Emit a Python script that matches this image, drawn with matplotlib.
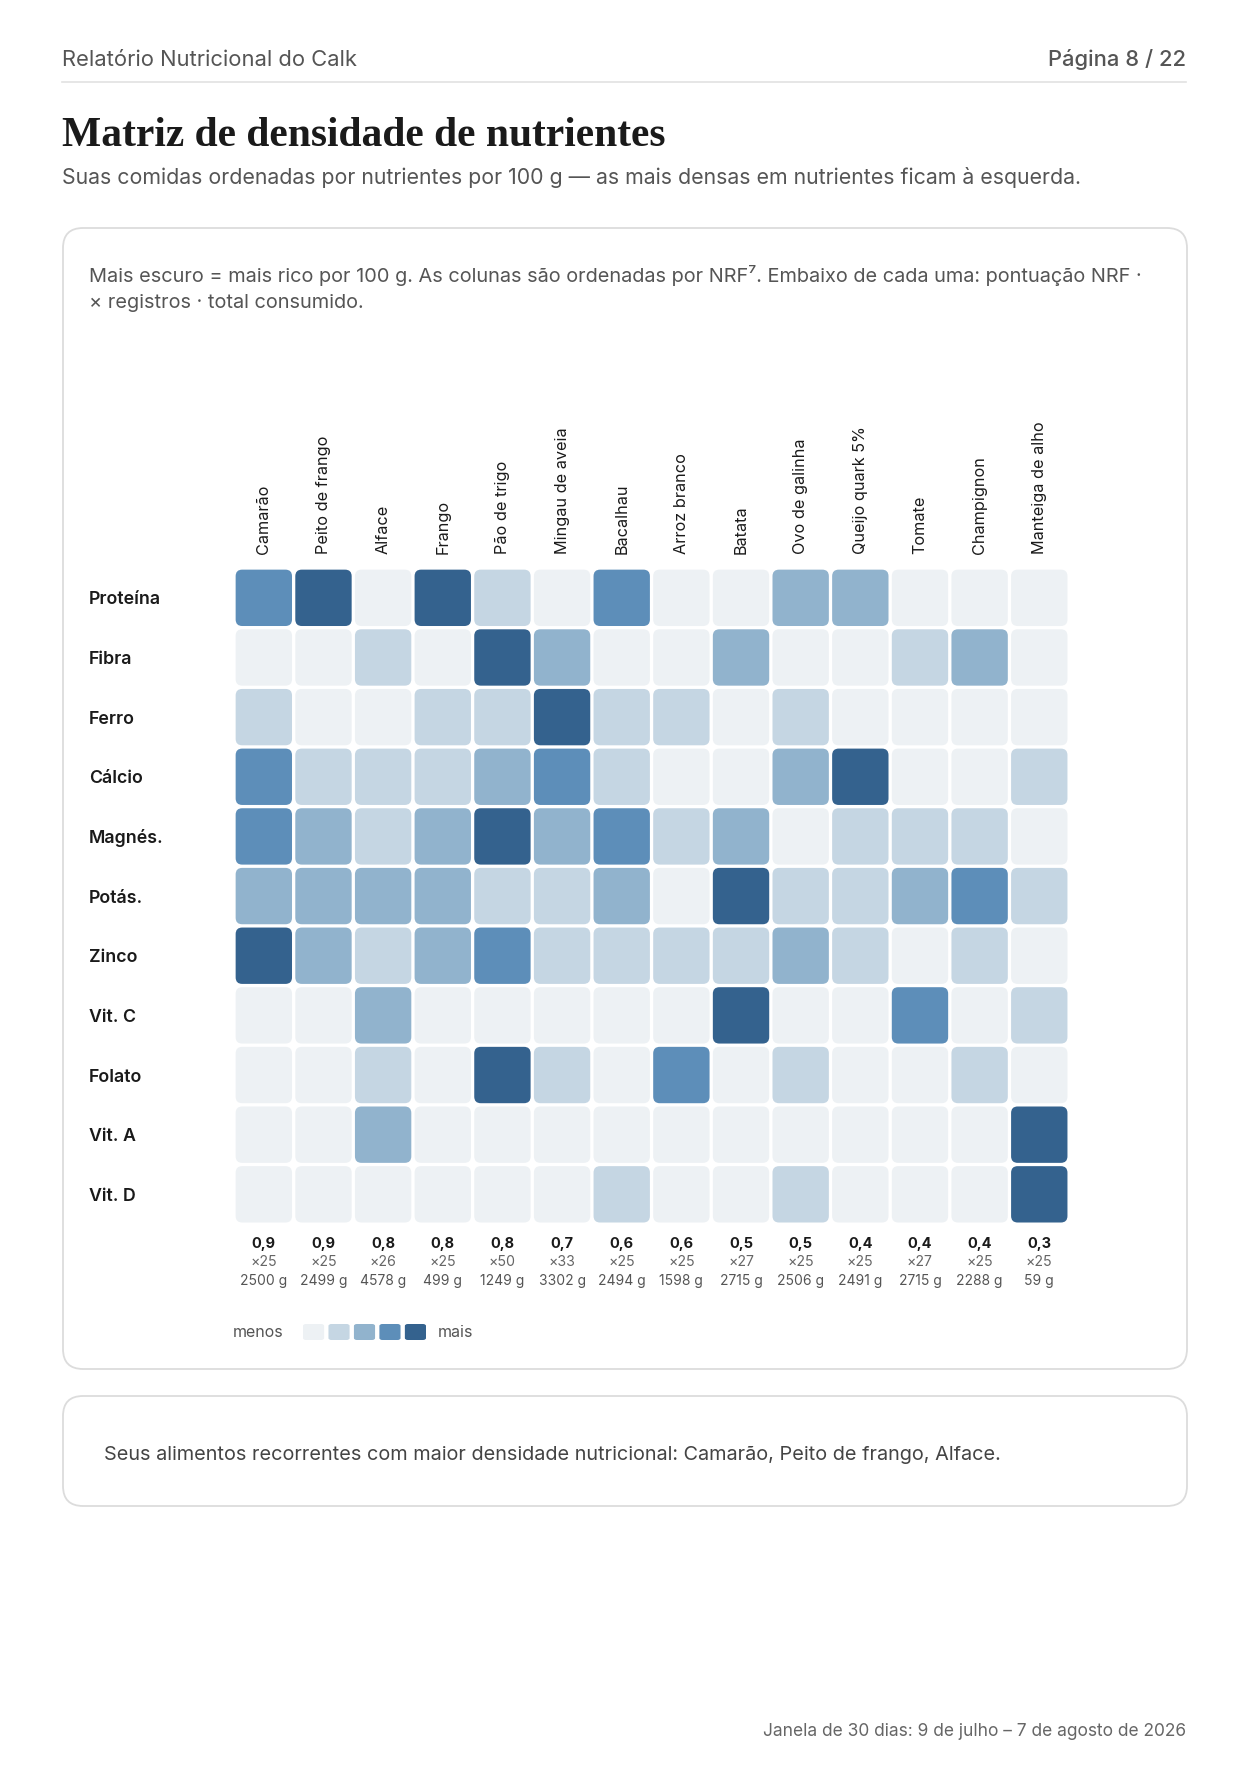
import matplotlib
matplotlib.use("Agg")
import matplotlib.pyplot as plt
from matplotlib.patches import FancyBboxPatch

# --- dados ---
alimentos = ["Camarão", "Peito de frango", "Alface", "Frango", "Pão de trigo",
             "Mingau de aveia", "Bacalhau", "Arroz branco", "Batata", "Ovo de galinha",
             "Queijo quark 5%", "Tomate", "Champignon", "Manteiga de alho"]
nutrientes = ["Proteína", "Fibra", "Ferro", "Cálcio", "Magnés.", "Potás.",
              "Zinco", "Vit. C", "Folato", "Vit. A", "Vit. D"]
# nivel 0..4 (mais escuro = mais rico por 100 g)
proteina = [3, 4, 0, 4, 1, 0, 3, 0, 0, 2, 2, 0, 0, 0]
fibra    = [0, 0, 1, 0, 4, 2, 0, 0, 2, 0, 0, 1, 2, 0]
ferro    = [1, 0, 0, 1, 1, 4, 1, 1, 0, 1, 0, 0, 0, 0]
calcio   = [3, 1, 1, 1, 2, 3, 1, 0, 0, 2, 4, 0, 0, 1]
magnes   = [3, 2, 1, 2, 4, 2, 3, 1, 2, 0, 1, 1, 1, 0]
potas    = [2, 2, 2, 2, 1, 1, 2, 0, 4, 1, 1, 2, 3, 1]
zinco    = [4, 2, 1, 2, 3, 1, 1, 1, 1, 2, 1, 0, 1, 0]
vit_c    = [0, 0, 2, 0, 0, 0, 0, 0, 4, 0, 0, 3, 0, 1]
folato   = [0, 0, 1, 0, 4, 1, 0, 3, 0, 1, 0, 0, 1, 0]
vit_a    = [0, 0, 2, 0, 0, 0, 0, 0, 0, 0, 0, 0, 0, 4]
vit_d    = [0, 0, 0, 0, 0, 0, 1, 0, 0, 1, 0, 0, 0, 4]
matriz = [proteina, fibra, ferro, calcio, magnes, potas, zinco, vit_c, folato, vit_a, vit_d]

nrf = [0.9, 0.9, 0.8, 0.8, 0.8, 0.7, 0.6, 0.6, 0.5, 0.5, 0.4, 0.4, 0.4, 0.3]
registros = [25, 25, 26, 25, 50, 33, 25, 25, 27, 25, 25, 27, 25, 25]
total_g = [2500, 2499, 4578, 499, 1249, 3302, 2494, 1598, 2715, 2506, 2491, 2715, 2288, 59]

paleta = ["#edf1f4", "#c5d6e3", "#91b3cd", "#5d8eb9", "#34628e"]

FONTE = ["Inter", "DejaVu Sans"]
plt.rcParams["font.family"] = FONTE

W, H = 1250, 1767
fig = plt.figure(figsize=(W / 100, H / 100), dpi=100)
fig.patch.set_facecolor("white")

# pagina em coordenadas de pixel
pg = fig.add_axes([0, 0, 1, 1])
pg.set_xlim(0, W)
pg.set_ylim(H, 0)
pg.axis("off")

def cartao(x0, y0, x1, y1):
    pg.add_patch(FancyBboxPatch((x0, y0), x1 - x0, y1 - y0,
                                boxstyle="round,pad=0,rounding_size=20",
                                fc="white", ec="#dcdcdc", lw=1.3))

# cabecalho
pg.text(62, 60, "Relatório Nutricional do Calk", fontsize=15.8, color="#555555", va="center")
pg.text(1186, 60, "Página 8 / 22", fontsize=15.8, fontweight="medium", color="#555555",
        va="center", ha="right")
pg.plot([62, 1186], [82, 82], color="#e2e2e2", lw=1.2)

pg.text(62, 136, "Matriz de densidade de nutrientes", fontsize=29.9, fontweight="bold",
        family=["Liberation Serif", "DejaVu Serif"], color="#1a1a1a", va="center")
pg.text(62, 178, "Suas comidas ordenadas por nutrientes por 100 g — as mais densas em nutrientes ficam à esquerda.",
        fontsize=15.35, color="#555555", va="center")

cartao(63, 228, 1187, 1369)
pg.text(89, 275, "Mais escuro = mais rico por 100 g. As colunas são ordenadas por NRF⁷. Embaixo de cada uma: pontuação NRF ·",
        fontsize=14.37, color="#555555", va="center")
pg.text(89, 303, "× registros · total consumido.", fontsize=14.37, color="#555555", va="center")

# matriz
gx0, gy0, passo = 234, 568, 59.65
ncol, nlin = len(alimentos), len(nutrientes)
ax = fig.add_axes([gx0 / W, 1 - (gy0 + nlin * passo) / H, ncol * passo / W, nlin * passo / H])
ax.set_xlim(-0.5, ncol - 0.5)
ax.set_ylim(nlin - 0.5, -0.5)
for s in ax.spines.values():
    s.set_visible(False)

lado = 0.945
for i, linha in enumerate(matriz):
    for j, v in enumerate(linha):
        ax.add_patch(FancyBboxPatch((j - lado / 2, i - lado / 2), lado, lado,
                                    boxstyle="round,pad=0,rounding_size=0.11",
                                    fc=paleta[v], ec="none"))

ax.xaxis.tick_top()
ax.set_xticks(range(ncol))
ax.set_xticklabels(alimentos, rotation=90, fontsize=11.7, color="#1a1a1a")
ax.tick_params(axis="x", length=0, pad=10)
ax.set_yticks(range(nlin))
ax.set_yticklabels(nutrientes, fontsize=12.8, fontweight="semibold", color="#1a1a1a", ha="left")
ax.tick_params(axis="y", length=0, pad=(gx0 - 89) * 0.72)

for j in range(ncol):
    ax.annotate(f"{nrf[j]:.1f}".replace(".", ","), (j, nlin - 0.5), xytext=(0, -14),
                textcoords="offset points", ha="center", va="center",
                fontsize=10.5, fontweight="bold", color="#1a1a1a")
    ax.annotate(f"×{registros[j]}", (j, nlin - 0.5), xytext=(0, -27),
                textcoords="offset points", ha="center", va="center",
                fontsize=10.2, color="#666666")
    ax.annotate(f"{total_g[j]} g", (j, nlin - 0.5), xytext=(0, -41),
                textcoords="offset points", ha="center", va="center",
                fontsize=10, color="#555555")

# legenda
pg.text(233, 1332, "menos", fontsize=11.5, color="#555555", va="center")
lg = fig.add_axes([303 / W, 1 - 1340 / H, 123 / W, 16 / H])
lg.set_xlim(0, len(paleta) - 0.17)
lg.set_ylim(0, 1)
lg.axis("off")
for k, c in enumerate(paleta):
    lg.add_patch(FancyBboxPatch((k, 0), 0.83, 1, boxstyle="round,pad=0,rounding_size=0.12",
                                fc=c, ec="none", mutation_aspect=1))
pg.text(438, 1332, "mais", fontsize=11.5, color="#555555", va="center")

# cartao de resumo
cartao(63, 1396, 1187, 1506)
pg.text(104, 1455, "Seus alimentos recorrentes com maior densidade nutricional: Camarão, Peito de frango, Alface.",
        fontsize=14.3, color="#444444", va="center")

pg.text(1186, 1731, "Janela de 30 dias: 9 de julho – 7 de agosto de 2026", fontsize=12.5,
        color="#666666", va="center", ha="right")

fig.savefig("out.png", dpi=100, facecolor="white")
